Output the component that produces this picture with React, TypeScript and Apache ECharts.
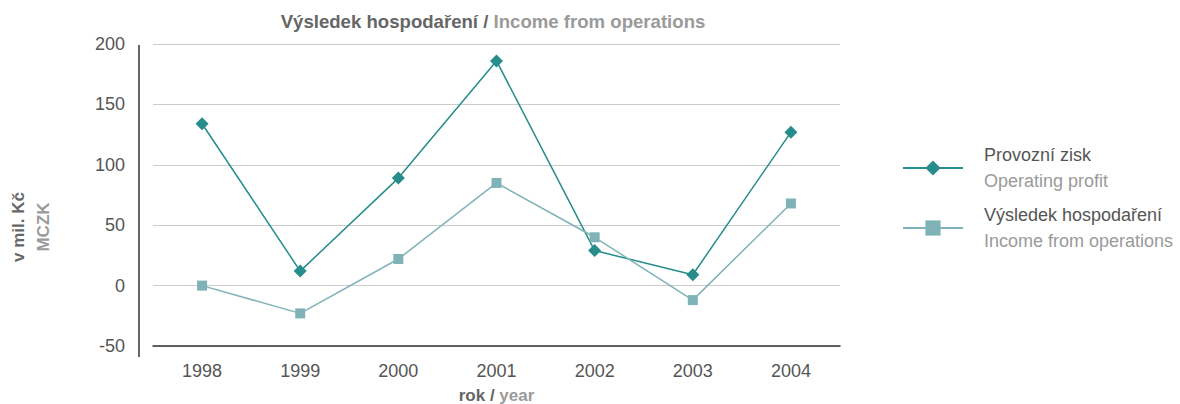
import React, { useEffect, useRef } from "react";
import * as echarts from "echarts";

const years = ["1998", "1999", "2000", "2001", "2002", "2003", "2004"];
const operatingProfit = [134, 12, 89, 186, 29, 9, 127];
const incomeFromOps = [0, -23, 22, 85, 40, -12, 68];
const yTicks = { min: -50, max: 200, interval: 50 };

const FONT = "Liberation Sans, Arial, Helvetica, sans-serif";
const DARK = "#666";
const LIGHT = "#9a9a9a";

export default function App() {
  const ref = useRef<HTMLDivElement>(null);
  useEffect(() => {
    const chart = echarts.init(ref.current!, null, { renderer: "svg" });
    chart.setOption({
      animation: false,
      textStyle: { fontFamily: FONT },
      title: {
        text: "{a|Výsledek hospodaření / }{b|Income from operations}",
        left: 488,
        textAlign: "center",
        top: 7,
        textStyle: {
          rich: {
            a: { fontFamily: FONT, fontSize: 18.6, fontWeight: "bold", color: DARK },
            b: { fontFamily: FONT, fontSize: 18.6, fontWeight: "bold", color: LIGHT },
          },
        },
      },
      grid: { left: 153, right: 340, top: 44, bottom: 58, outerBoundsMode: "none", containLabel: false },
      legend: {
        orient: "vertical",
        left: 897,
        top: 137,
        itemWidth: 60,
        itemHeight: 19,
        itemGap: 8,
        data: ["Provozní zisk", "Výsledek hospodaření"],
        formatter: (name: string) =>
          name === "Provozní zisk"
            ? "{a|Provozní zisk}\n{b|Operating profit}"
            : "{a|Výsledek hospodaření}\n{b|Income from operations}",
        textStyle: {
          padding: [0, 0, 0, 16],
          lineHeight: 26,
          fontSize: 18,
          rich: {
            a: { fontFamily: FONT, fontSize: 18, color: "#555", lineHeight: 26 },
            b: { fontFamily: FONT, fontSize: 18, color: LIGHT, lineHeight: 26 },
          },
        },
      },
      xAxis: {
        type: "category",
        data: years,
        boundaryGap: true,
        axisLine: { show: true, onZero: false, lineStyle: { color: "#333", width: 1.5 } },
        axisTick: { show: false },
        axisLabel: { color: "#555", fontSize: 18, margin: 16, fontFamily: FONT },
        name: "{a|rok / }{b|year}",
        nameLocation: "middle",
        nameGap: 41,
        nameTextStyle: {
          rich: {
            a: { fontFamily: FONT, fontSize: 17, fontWeight: "bold", color: DARK },
            b: { fontFamily: FONT, fontSize: 17, fontWeight: "bold", color: LIGHT },
          },
        },
      },
      yAxis: {
        type: "value",
        min: yTicks.min,
        max: yTicks.max,
        interval: yTicks.interval,
        axisLine: { show: false },
        axisTick: { show: false },
        splitLine: { lineStyle: { color: "#cccccc", width: 1 } },
        axisLabel: { color: "#555", fontSize: 18, margin: 28, fontFamily: FONT },
      },
      graphic: [
        {
          type: "line",
          shape: { x1: 139, y1: 45, x2: 139, y2: 357 },
          style: { stroke: "#333", lineWidth: 1.5 },
        },
        {
          type: "text",
          x: 18,
          y: 227,
          rotation: Math.PI / 2,
          style: {
            text: "v mil. Kč",
            fill: DARK,
            font: `bold 17px ${FONT}`,
            align: "center",
            verticalAlign: "middle",
          },
        },
        {
          type: "text",
          x: 43,
          y: 227,
          rotation: Math.PI / 2,
          style: {
            text: "MCZK",
            fill: LIGHT,
            font: `bold 17px ${FONT}`,
            align: "center",
            verticalAlign: "middle",
          },
        },
      ],
      series: [
        {
          name: "Provozní zisk",
          type: "line",
          data: operatingProfit,
          symbol: "diamond",
          symbolSize: 13,
          lineStyle: { color: "#268c8c", width: 1.5 },
          itemStyle: { color: "#268c8c" },
        },
        {
          name: "Výsledek hospodaření",
          type: "line",
          data: incomeFromOps,
          symbol: "rect",
          symbolSize: 10,
          lineStyle: { color: "#7fb3b8", width: 1.5 },
          itemStyle: { color: "#7fb3b8" },
        },
      ],
    });
    return () => chart.dispose();
  }, []);
  return (
    <div
      ref={ref}
      style={{ position: "absolute", left: 0, top: 0, width: 1180, height: 404 }}
    />
  );
}
